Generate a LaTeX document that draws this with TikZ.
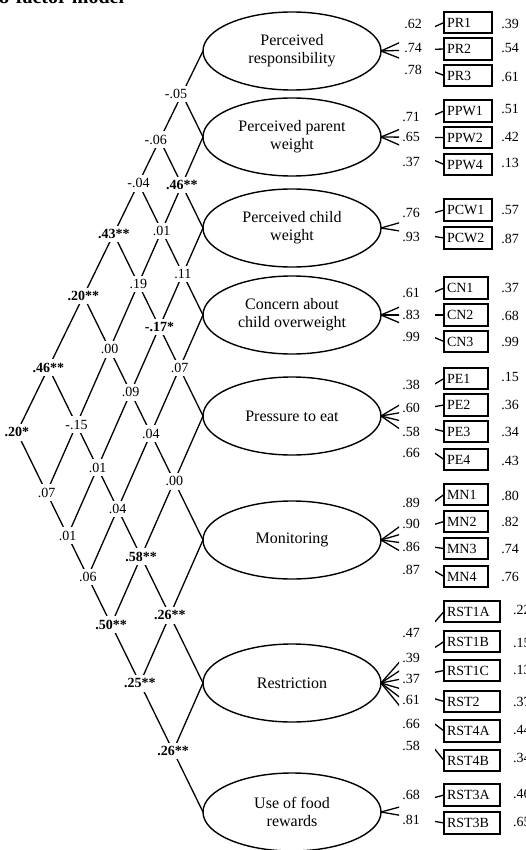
\documentclass[tikz,border=0pt]{standalone}
\usepackage{fontspec}
\setmainfont{Liberation Serif}
\usetikzlibrary{shapes.geometric}
\begin{document}
\begin{tikzpicture}[x=1pt,y=-1pt,
  cl/.style={line width=1.3pt},
  lat/.style={draw, ellipse, line width=1.4pt, minimum width=178pt, minimum height=78pt,
    inner sep=0pt, outer sep=0pt, align=center, font=\fontsize{16}{18}\selectfont},
  ind/.style={draw, line width=1.8pt, anchor=west, minimum height=21.5pt, inner xsep=3pt,
    inner ysep=0pt, outer sep=0pt, align=left, font=\fontsize{14}{16}\selectfont},
  indA/.style={ind, text width=42pt},
  indB/.style={ind, text width=38pt},
  indC/.style={ind, text width=50pt},
  lab/.style={inner sep=1pt, font=\fontsize{14}{16}\selectfont},
  cor/.style={fill=white, inner xsep=2pt, inner ysep=3.5pt, font=\fontsize{14}{16}\selectfont},
  corb/.style={cor, font=\fontsize{14}{16}\selectfont\bfseries}]
\path[use as bounding box] (0,0) rectangle (526,850);
\clip (0,0) rectangle (526,850);

% title (cut off at top)
\node[anchor=base west, inner sep=0pt, font=\fontsize{20}{22}\selectfont\bfseries] (title) at (-1,3.5) {8-factor model};

% latent factors
\node[lat] (E1) at (292,51) {Perceived\\responsibility};
\node[lat] (E2) at (292,137) {Perceived parent\\weight};
\node[lat] (E3) at (292,228) {Perceived child\\weight};
\node[lat] (E4) at (292,315) {Concern about\\child overweight};
\node[lat] (E5) at (292,416) {Pressure to eat};
\node[lat] (E6) at (292,540) {Monitoring};
\node[lat] (E7) at (292,683) {Restriction};
\node[lat] (E8) at (292,812) {Use of food\\rewards};

% indicators
\node[indA] (PR1) at (444,22.5) {PR1};
\node[indA] (PR2) at (444,49) {PR2};
\node[indA] (PR3) at (444,75.5) {PR3};
\node[indA] (PPW1) at (444,111) {PPW1};
\node[indA] (PPW2) at (444,137.5) {PPW2};
\node[indA] (PPW4) at (444,164.5) {PPW4};
\node[indA] (PCW1) at (444,210) {PCW1};
\node[indA] (PCW2) at (444,238) {PCW2};
\node[indB] (CN1) at (444,288) {CN1};
\node[indB] (CN2) at (444,315) {CN2};
\node[indB] (CN3) at (444,341.5) {CN3};
\node[indB] (PE1) at (444,378.5) {PE1};
\node[indB] (PE2) at (444,405) {PE2};
\node[indB] (PE3) at (444,431.5) {PE3};
\node[indB] (PE4) at (444,459.5) {PE4};
\node[indB] (MN1) at (444,494.5) {MN1};
\node[indB] (MN2) at (444,521.5) {MN2};
\node[indB] (MN3) at (444,548.5) {MN3};
\node[indB] (MN4) at (444,576.5) {MN4};
\node[indC] (RST1A) at (444,611.5) {RST1A};
\node[indC] (RST1B) at (444,641.5) {RST1B};
\node[indC] (RST1C) at (444,670.5) {RST1C};
\node[indC] (RST2) at (444,701.5) {RST2};
\node[indC] (RST4A) at (444,731) {RST4A};
\node[indC] (RST4B) at (444,760.5) {RST4B};
\node[indC] (RST3A) at (444,795) {RST3A};
\node[indC] (RST3B) at (444,823) {RST3B};

% loading paths (interrupted where the loadings are printed)
\begin{scope}
\clip (0,0) rectangle (399,850) (435,0) rectangle (526,850);
\foreach \b in {PR1,PR2,PR3} \draw[cl] (E1.east) -- (\b.west);
\foreach \b in {PPW1,PPW2,PPW4} \draw[cl] (E2.east) -- (\b.west);
\foreach \b in {PCW1,PCW2} \draw[cl] (E3.east) -- (\b.west);
\foreach \b in {CN1,CN2,CN3} \draw[cl] (E4.east) -- (\b.west);
\foreach \b in {PE1,PE2,PE3,PE4} \draw[cl] (E5.east) -- (\b.west);
\foreach \b in {MN1,MN2,MN3,MN4} \draw[cl] (E6.east) -- (\b.west);
\foreach \b in {RST1A,RST1B,RST1C,RST2,RST4A,RST4B} \draw[cl] (E7.east) -- (\b.west);
\foreach \b in {RST3A,RST3B} \draw[cl] (E8.east) -- (\b.west);
\end{scope}

% loadings
\node[lab] (l1) at (413,24) {.62};
\node[lab] (l2) at (413,48) {.74};
\node[lab] (l3) at (413,70) {.78};
\node[lab] (l4) at (411,117) {.71};
\node[lab] (l5) at (411,137) {.65};
\node[lab] (l6) at (411,162) {.37};
\node[lab] (l7) at (411,213) {.76};
\node[lab] (l8) at (411,237) {.93};
\node[lab] (l9) at (411,293) {.61};
\node[lab] (l10) at (411,315) {.83};
\node[lab] (l11) at (411,337) {.99};
\node[lab] (l12) at (411,385) {.38};
\node[lab] (l13) at (411,408) {.60};
\node[lab] (l14) at (411,432) {.58};
\node[lab] (l15) at (411,453) {.66};
\node[lab] (l16) at (411,503) {.89};
\node[lab] (l17) at (411,524) {.90};
\node[lab] (l18) at (411,547) {.86};
\node[lab] (l19) at (411,570) {.87};
\node[lab] (l20) at (411,633) {.47};
\node[lab] (l21) at (411,658) {.39};
\node[lab] (l22) at (411,679) {.37};
\node[lab] (l23) at (411,700) {.61};
\node[lab] (l24) at (411,724) {.66};
\node[lab] (l25) at (411,746) {.58};
\node[lab] (l26) at (411,795) {.68};
\node[lab] (l27) at (411,820) {.81};

% R-squared
\node[lab] (r1) at (510,24) {.39};
\node[lab] (r2) at (510,48) {.54};
\node[lab] (r3) at (510,77) {.61};
\node[lab] (r4) at (510,109) {.51};
\node[lab] (r5) at (510,137) {.42};
\node[lab] (r6) at (510,163) {.13};
\node[lab] (r7) at (510,210) {.57};
\node[lab] (r8) at (510,239) {.87};
\node[lab] (r9) at (510,288) {.37};
\node[lab] (r10) at (510,316) {.68};
\node[lab] (r11) at (510,342) {.99};
\node[lab] (r12) at (510,377) {.15};
\node[lab] (r13) at (510,405) {.36};
\node[lab] (r14) at (510,432) {.34};
\node[lab] (r15) at (510,461) {.43};
\node[lab] (r16) at (510,496) {.80};
\node[lab] (r17) at (510,522) {.82};
\node[lab] (r18) at (510,549) {.74};
\node[lab] (r19) at (510,577) {.76};
\node[lab, anchor=west] (r20) at (512,610) {.22};
\node[lab, anchor=west] (r21) at (512,643) {.15};
\node[lab, anchor=west] (r22) at (512,670) {.13};
\node[lab, anchor=west] (r23) at (512,702) {.37};
\node[lab, anchor=west] (r24) at (512,730) {.44};
\node[lab, anchor=west] (r25) at (512,758) {.34};
\node[lab, anchor=west] (r26) at (512,794) {.46};
\node[lab, anchor=west] (r27) at (512,822) {.65};

% correlation lattice: crossing points
\def\yl{{51,137,228,315,416,540,683,812}}
\foreach \i in {1,...,7}{
  \pgfmathtruncatemacro\jstart{\i+1}
  \foreach \j in {\jstart,...,8}{
    \pgfmathsetmacro\yi{\yl[\i-1]}
    \pgfmathsetmacro\yj{\yl[\j-1]}
    \pgfmathsetmacro\slA{\i==1 ? 0.488 : 0.44}
    \pgfmathsetmacro\slB{0.49}
    \pgfmathsetmacro\py{(\slA*\yi+\slB*\yj)/(\slA+\slB)}
    \pgfmathsetmacro\px{203-\slA*\slB*(\yj-\yi)/(\slA+\slB)}
    \coordinate (P-\i-\j) at (\px,\py);
  }
}
\foreach \i in {1,...,7} \draw[cl] (E\i.west) -- (P-\i-8);
\foreach \j in {2,...,8} \draw[cl] (E\j.west) -- (P-1-\j);

% correlations
\node[cor, xshift=-6pt]  (c12) at (P-1-2) {-.05};
\node[cor, xshift=-4pt]  (c13) at (P-1-3) {-.06};
\node[cor]  (c14) at (P-1-4) {-.04};
\node[corb] (c15) at (P-1-5) {.43**};
\node[corb] (c16) at (P-1-6) {.20**};
\node[corb] (c17) at (P-1-7) {.46**};
\node[corb] (c18) at (P-1-8) {.20*};
\node[corb] (c23) at (P-2-3) {.46**};
\node[cor]  (c24) at (P-2-4) {.01};
\node[cor]  (c25) at (P-2-5) {.19};
\node[cor]  (c26) at (P-2-6) {.00};
\node[cor]  (c27) at (P-2-7) {-.15};
\node[cor]  (c28) at (P-2-8) {.07};
\node[cor]  (c34) at (P-3-4) {.11};
\node[corb] (c35) at (P-3-5) {-.17*};
\node[cor]  (c36) at (P-3-6) {.09};
\node[cor]  (c37) at (P-3-7) {.01};
\node[cor]  (c38) at (P-3-8) {.01};
\node[cor]  (c45) at (P-4-5) {.07};
\node[cor]  (c46) at (P-4-6) {.04};
\node[cor]  (c47) at (P-4-7) {.04};
\node[cor]  (c48) at (P-4-8) {.06};
\node[cor]  (c56) at (P-5-6) {.00};
\node[corb] (c57) at (P-5-7) {.58**};
\node[corb] (c58) at (P-5-8) {.50**};
\node[corb] (c67) at (P-6-7) {.26**};
\node[corb] (c68) at (P-6-8) {.25**};
\node[corb] (c78) at (P-7-8) {.26**};
\end{tikzpicture}
\end{document}
